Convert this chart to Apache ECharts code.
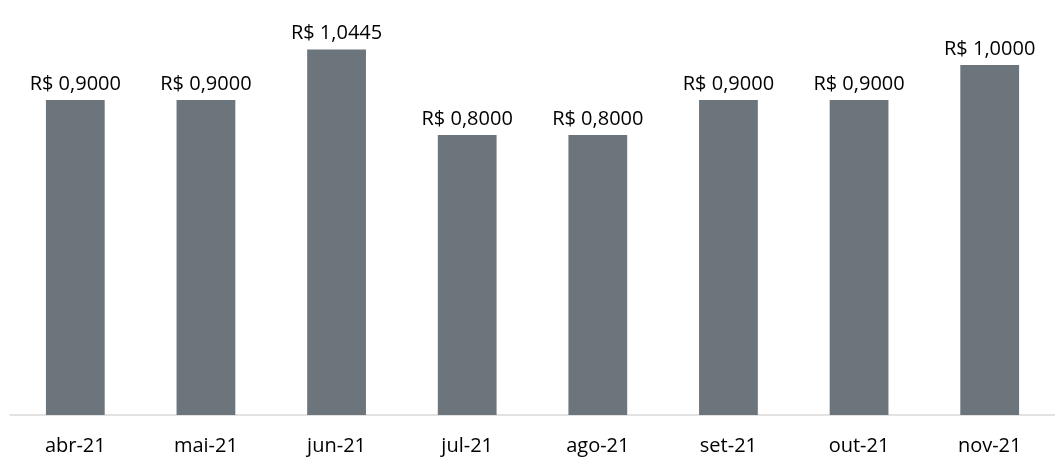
<!DOCTYPE html>
<html>
<head>
<meta charset="utf-8">
<script src="https://cdn.jsdelivr.net/npm/echarts@6/dist/echarts.min.js"></script>
<style>
  html, body { margin: 0; padding: 0; background: #fff; }
  #chart { width: 1055px; height: 460px; }
</style>
</head>
<body>
<div id="chart"></div>
<script>
// meses e valores por mês
var meses = ['abr-21', 'mai-21', 'jun-21', 'jul-21', 'ago-21', 'set-21', 'out-21', 'nov-21'];
var valores = [0.9, 0.9, 1.0445, 0.8, 0.8, 0.9, 0.9, 1.0];

var fonte = '"Open Sans", sans-serif';

var myChart = echarts.init(document.getElementById('chart'));
var option = {
    backgroundColor: '#fff',
    animation: false,
    grid: {
        left: 10,
        right: -5,
        top: 30,
        bottom: 45
    },
    xAxis: {
        type: 'category',
        data: meses,
        axisTick: { show: false },
        axisLine: {
            lineStyle: { color: '#d9d9d9', width: 1.5 }
        },
        axisLabel: {
            color: '#000',
            fontFamily: fonte,
            fontSize: 20,
            margin: 21
        }
    },
    yAxis: {
        type: 'value',
        min: 0,
        max: 1.1,
        show: false,
        splitLine: { show: false }
    },
    series: [{
        type: 'bar',
        data: valores,
        barWidth: '45%',
        itemStyle: { color: '#6d757c' },
        label: {
            show: true,
            position: 'top',
            distance: 6,
            color: '#000',
            fontFamily: fonte,
            fontSize: 20,
            formatter: function (p) {
                return 'R$ ' + p.value.toFixed(4).replace('.', ',');
            }
        }
    }]
};
myChart.setOption(option);
</script>
</body>
</html>
